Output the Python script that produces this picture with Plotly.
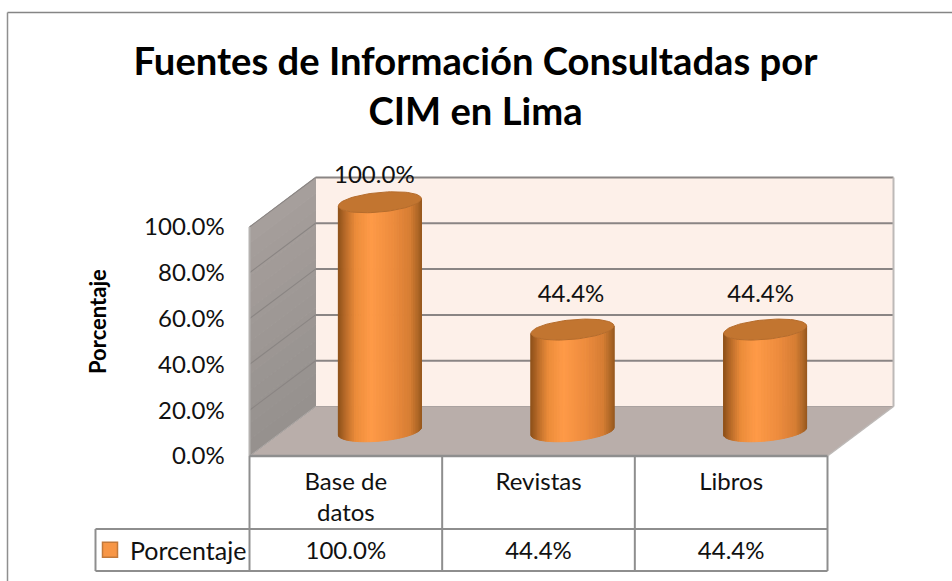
import numpy as np
import plotly.graph_objects as go

# ---- data
categories = ["Base de<br>datos", "Revistas", "Libros"]
series_name = "Porcentaje"
values = [100.0, 44.4, 44.4]
y_ticks = [0, 20, 40, 60, 80, 100]
title_text = "Fuentes de Información Consultadas por<br>CIM en Lima"
y_title = "Porcentaje"
label_dx = [-5.5, -1.5, -4.5]   # label shift from the cylinder centre, px
label_dy = [25, 34, 34]         # label lift above the cylinder top, px

# ---- page geometry (pixels), used to set up the axes
W, H = 952, 581
X0, X3 = 249.5, 827.5     # category 0 and 3 on the front edge
Y0, Y100 = 456.0, 227.0   # 0% and 100% on the front edge
SX = (X3 - X0) / 3
SY = (Y0 - Y100) / 100
DEPTH_X = 66.0 / SX       # oblique depth expressed in axis units
DEPTH_Y = 49.5 / SY
TXT = "#111111"
FS = 24


def ux(px):
    return (px - X0) / SX


def uy(py):
    return (Y0 - py) / SY


fig = go.Figure()


def poly(pts, fill, line=None, width=0):
    p = "M" + " L".join(f"{a:.4f},{b:.4f}" for a, b in pts) + " Z"
    fig.add_shape(type="path", path=p, xref="x", yref="y", layer="below",
                  fillcolor=fill, line=dict(color=line or fill, width=width))


def seg(a, b, color, width):
    fig.add_shape(type="line", xref="x", yref="y", layer="below",
                  x0=a[0], y0=a[1], x1=b[0], y1=b[1],
                  line=dict(color=color, width=width))


n = len(categories)
top = max(y_ticks)

# walls and floor
poly([(0, 0), (DEPTH_X, DEPTH_Y), (n + DEPTH_X, DEPTH_Y), (n, 0)], "#b9aeaa")
poly([(DEPTH_X, DEPTH_Y), (n + DEPTH_X, DEPTH_Y), (n + DEPTH_X, top + DEPTH_Y),
      (DEPTH_X, top + DEPTH_Y)], "#fdf0e9")
bands = 14
for i in range(bands):
    a, b = top * i / bands, top * (i + 1) / bands
    f = i / (bands - 1)
    c = (int(150 + 16 * f), int(145 + 14 * f), int(142 + 14 * f))
    poly([(0, a), (DEPTH_X, a + DEPTH_Y), (DEPTH_X, b + DEPTH_Y), (0, b)],
         f"rgb({c[0]},{c[1]},{c[2]})", width=1)

# grid lines
for t in y_ticks[1:]:
    seg((0, t), (DEPTH_X, t + DEPTH_Y), "#8a8583", 1.1)
    seg((DEPTH_X, t + DEPTH_Y), (n + DEPTH_X, t + DEPTH_Y), "#8a8584", 2)
seg((DEPTH_X, DEPTH_Y), (n + DEPTH_X, DEPTH_Y), "#aaa2a0", 1.2)
seg((n + DEPTH_X, DEPTH_Y), (n + DEPTH_X, top + DEPTH_Y), "#bdb9b7", 2)
seg((0, 0), (0, top), "#b5b2b0", 2)
seg((n, 0), (n + DEPTH_X, DEPTH_Y), "#bdb9b7", 1.5)
seg((0, 0), (DEPTH_X, DEPTH_Y), "#aaa6a4", 1)

# data table lines
TABLE_GREY = "#8e8e8e"
row_y = uy(529)
bottom_y = uy(571)
seg((0, 0), (n, 0), TABLE_GREY, 2.5)
for i in range(n + 1):
    seg((i, 0), (i, row_y), TABLE_GREY, 2)
    seg((i, row_y), (i, bottom_y), TABLE_GREY, 2)
seg((ux(95.5), row_y), (n, row_y), TABLE_GREY, 2)
seg((ux(95.5), bottom_y), (n, bottom_y), TABLE_GREY, 2)
seg((ux(95.5), row_y), (ux(95.5), bottom_y), TABLE_GREY, 2)

# outer chart frame
fig.add_shape(type="line", xref="paper", yref="paper", layer="below",
              x0=7.5 / W, x1=1, y0=1 - 12.5 / H, y1=1 - 12.5 / H,
              line=dict(color="#858585", width=1.5))
fig.add_shape(type="line", xref="paper", yref="paper", layer="below",
              x0=7.5 / W, x1=7.5 / W, y0=0, y1=1 - 12.5 / H,
              line=dict(color="#8f8f8f", width=1.5))

# cylinders, drawn as strips of a gradient
AX, BX, BY = 38.8 / SX, 14.6 / SX, 10.5 / SY
t0 = np.arctan2(BX, AX)
t_edges = np.linspace(t0, t0 - np.pi, 44)
stops_pos = [0.0, 0.05, 0.14, 0.35, 0.62, 0.8, 0.92, 1.0]
stops_r = [150, 176, 214, 238, 255, 236, 186, 146]
stops_g = [88, 104, 126, 140, 155, 140, 108, 84]
stops_b = [30, 40, 52, 62, 72, 58, 42, 28]
centers = [i + 0.5 + DEPTH_X / 2 + 1 / SX for i in range(n)]
base = DEPTH_Y / 2


def ell(cx, cy, t):
    return cx + AX * np.cos(t) + BX * np.sin(t), cy + BY * np.sin(t)


for i in range(len(t_edges) - 1):
    a, b = t_edges[i], t_edges[i + 1]
    xs, ys = [], []
    for cx, v in zip(centers, values):
        low = [ell(cx, base, t) for t in (a, b)]
        high = [ell(cx, base + v, t) for t in (a, b)]
        pts = [high[0], high[1], low[1], low[0], high[0]]
        xs += [p[0] for p in pts] + [None]
        ys += [p[1] for p in pts] + [None]
    g = 1 - (np.cos((a + b) / 2 - t0) + 1) / 2  # 0 at right side, 1 at left side
    col = "rgb(%d,%d,%d)" % (np.interp(g, stops_pos, stops_r),
                             np.interp(g, stops_pos, stops_g),
                             np.interp(g, stops_pos, stops_b))
    fig.add_trace(go.Scatter(x=xs, y=ys, mode="lines", fill="toself",
                             fillcolor=col, line=dict(color=col, width=1),
                             hoverinfo="skip", showlegend=False))

# top caps
cap_t = np.linspace(0, 2 * np.pi, 80)
cx_all, cy_all = [], []
for cx, v in zip(centers, values):
    px, py = ell(cx, base + v, cap_t)
    cx_all += list(px) + [None]
    cy_all += list(py) + [None]
fig.add_trace(go.Scatter(x=cx_all, y=cy_all, mode="lines", fill="toself",
                         fillcolor="#c27530", line=dict(color="#b56c2c", width=1),
                         hoverinfo="skip", showlegend=False))

# value labels above the cylinders
fig.add_trace(go.Scatter(
    x=[c + d / SX for c, d in zip(centers, label_dx)],
    y=[v + base + d / SY for v, d in zip(values, label_dy)],
    mode="text", text=[f"{v:.1f}%" for v in values], textposition="middle center",
    textfont=dict(family="Lato", size=FS, color=TXT),
    showlegend=False, hoverinfo="skip", cliponaxis=False))

# data table row values
fig.add_trace(go.Scatter(
    x=[i + 0.5 for i in range(n)], y=[uy(553)] * n,
    mode="text", text=[f"{v:.1f}%" for v in values], textposition="middle center",
    textfont=dict(family="Lato", size=FS, color=TXT),
    showlegend=False, hoverinfo="skip"))

# legend key entry of the table
fig.add_trace(go.Scatter(
    x=[None], y=[None], mode="markers", name=series_name,
    marker=dict(symbol="square", size=15, color="#f79646",
                line=dict(color="#c2793a", width=1.5))))

fig.add_annotation(text="<b>%s</b>" % y_title, x=97 / W, y=1 - 322 / H,
                   xref="paper", yref="paper", xanchor="center", yanchor="middle",
                   textangle=-90, showarrow=False,
                   font=dict(family="Lato", size=22, color="#000000"))

fig.update_layout(
    width=W, height=H, autosize=False,
    margin=dict(l=0, r=0, t=0, b=0),
    paper_bgcolor="#ffffff", plot_bgcolor="#ffffff",
    font=dict(family="Lato", size=FS, color=TXT),
    title=dict(text="<b>%s</b>" % title_text, x=475.5 / W, xanchor="center",
               y=1 - 75 / H, yanchor="middle", yref="container",
               font=dict(family="Lato", size=38.2, color="#000000")),
    legend=dict(x=90 / W, y=1 - 550 / H, xanchor="left", yanchor="middle",
                bgcolor="rgba(0,0,0,0)", borderwidth=0, itemsizing="trace",
                itemwidth=30,
                font=dict(family="Lato", size=FS + 1, color=TXT)),
    showlegend=True,
    xaxis=dict(range=[ux(0), ux(W)], domain=[0, 1], showgrid=False, zeroline=False,
               tickmode="array", tickvals=[i + 0.5 for i in range(n)],
               ticktext=categories, anchor="free", position=1 - Y0 / H,
               ticks="outside", ticklen=4, tickcolor="rgba(0,0,0,0)",
               showline=False, tickfont=dict(family="Lato", size=FS, color=TXT)),
    yaxis=dict(range=[uy(H), uy(0)], domain=[0, 1], showgrid=False, zeroline=False,
               tickmode="array", tickvals=y_ticks,
               ticktext=[f"{t:.1f}%" for t in y_ticks], anchor="free",
               position=X0 / W, ticks="outside", ticklen=20,
               tickcolor="rgba(0,0,0,0)", showline=False,
               tickfont=dict(family="Lato", size=FS, color=TXT)),
)

fig.write_html("out.html", config={"displayModeBar": False},
               post_script="document.body.style.margin='0';document.documentElement.style.overflow='hidden';")
